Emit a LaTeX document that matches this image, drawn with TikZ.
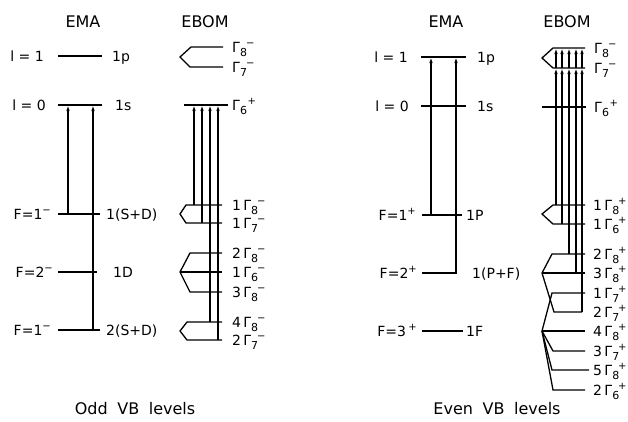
\documentclass[tikz,border=0pt]{standalone}
\usepackage{fontspec}
\setmainfont{DejaVu Sans}
\usetikzlibrary{arrows.meta}
\newcommand{\sgn}[1]{\raisebox{6pt}{\fontsize{10}{10}\selectfont#1}}
\newcommand{\gam}[2]{Γ\raisebox{-4pt}{\fontsize{11}{11}\selectfont#1}\kern-1pt\sgn{#2}}

\begin{document}
\begin{tikzpicture}[x=1pt,y=-1pt,
  font=\fontsize{14}{16}\selectfont,
  lvl/.style={line width=1.3pt},
  arr/.style={-{Latex[length=6pt,width=3.4pt]},line width=1.2pt},
  lab/.style={inner sep=0pt,yshift=-5pt},
  ttl/.style={font=\fontsize{16}{18}\selectfont}]
\useasboundingbox (0,0) rectangle (628,421);

\node[ttl] (emaL)  at (83,22)  {EMA};
\node[ttl] (ebomL) at (205,22) {EBOM};
\node[ttl] (emaR)  at (446,22) {EMA};
\node[ttl] (ebomR) at (567,22) {EBOM};

\draw[lvl] (58,56) -- (102,56);
\draw[lvl] (58,105) -- (102,105);
\draw[lvl] (58,214) -- (100,214);
\draw[lvl] (58,272) -- (97,272);
\draw[lvl] (58,330) -- (100,330);
\draw[arr] (68,214) -- (68,105);
\draw[arr] (93,330) -- (93,105);

\node[lab,anchor=base east] (l1L) at (44,56)  {l = 1};
\node[lab,anchor=base east] (l0L) at (46,105) {l = 0};
\node[lab,anchor=base east] (f1L) at (51,214) {F=1\sgn{−}};
\node[lab,anchor=base east] (f2L) at (53,272) {F=2\sgn{−}};
\node[lab,anchor=base east] (f3L) at (51,330) {F=1\sgn{−}};
\node[lab,anchor=base west] (p1L)  at (112,56)  {1p};
\node[lab,anchor=base west] (s1L)  at (115,105) {1s};
\node[lab,anchor=base west] (sd1L) at (106,214) {1(S+D)};
\node[lab,anchor=base west] (d1L)  at (113,272) {1D};
\node[lab,anchor=base west] (sd2L) at (106,330) {2(S+D)};

\draw[lvl] (223,47) -- (191,47) -- (180,57) -- (190,67) -- (223,67);
\draw[lvl] (184,105) -- (228,105);
\draw[lvl] (222,205) -- (186,205) -- (180,214) -- (186,223) -- (222,223);
\draw[lvl] (222,253) -- (190,253) -- (180,272) -- (190,292) -- (222,292);
\draw[lvl] (180,272) -- (222,272);
\draw[lvl] (222,322) -- (187,322) -- (180,331) -- (187,340) -- (222,340);
\draw[arr] (194,205) -- (194,105);
\draw[arr] (202,223) -- (202,105);
\draw[arr] (210,322) -- (210,105);
\draw[arr] (218,340) -- (218,105);

\node[lab,anchor=base west] (g8L)  at (232,47)  {\gam{8}{−}};
\node[lab,anchor=base west] (g7L)  at (232,67)  {\gam{7}{−}};
\node[lab,anchor=base west] (g6L)  at (232,105) {\gam{6}{\,+}};
\node[lab,anchor=base west] (g81L) at (232,205) {1\,\gam{8}{−}};
\node[lab,anchor=base west] (g71L) at (232,223) {1\,\gam{7}{−}};
\node[lab,anchor=base west] (g82L) at (232,253) {2\,\gam{8}{−}};
\node[lab,anchor=base west] (g61L) at (232,272) {1\,\gam{6}{−}};
\node[lab,anchor=base west] (g83L) at (232,292) {3\,\gam{8}{−}};
\node[lab,anchor=base west] (g84L) at (232,322) {4\,\gam{8}{−}};
\node[lab,anchor=base west] (g72L) at (232,340) {2\,\gam{7}{−}};

\draw[lvl] (421,57) -- (466,57);
\draw[lvl] (421,106) -- (466,106);
\draw[lvl] (422,215) -- (462,215);
\draw[lvl] (422,273) -- (457,273);
\draw[lvl] (422,331) -- (463,331);
\draw[arr] (431,215) -- (431,57);
\draw[arr] (456,273) -- (456,57);

\node[lab,anchor=base east] (l1R) at (408,57)  {l = 1};
\node[lab,anchor=base east] (l0R) at (409,106) {l = 0};
\node[lab,anchor=base east] (f1R) at (416,215) {F=1\sgn{+}};
\node[lab,anchor=base east] (f2R) at (417,273) {F=2\sgn{+}};
\node[lab,anchor=base east] (f3R) at (417,331) {F=3\,\sgn{+}};
\node[lab,anchor=base west] (p1R)  at (477,57)  {1p};
\node[lab,anchor=base west] (s1R)  at (477,106) {1s};
\node[lab,anchor=base west] (pP1R) at (466,215) {1P};
\node[lab,anchor=base west] (pf1R) at (472,273) {1(P+F)};
\node[lab,anchor=base west] (fF1R) at (466,331) {1F};

\draw[lvl] (585,48) -- (553,48) -- (542,58) -- (553,68) -- (585,68);
\draw[lvl] (542,107) -- (586,107);
\draw[lvl] (585,205) -- (553,205) -- (542,214) -- (553,224) -- (585,224);
\draw[lvl] (585,254) -- (552,254) -- (542,273) -- (554,312) -- (582,312);
\draw[lvl] (542,273) -- (585,273);
\draw[lvl] (585,293) -- (552,293) -- (542,331) -- (553,351) -- (585,351);
\draw[lvl] (542,331) -- (585,331);
\draw[lvl] (542,331) -- (552,370) -- (589,370);
\draw[lvl] (542,331) -- (553,390) -- (585,390);
\draw[arr] (556,205) -- (556,68);
\draw[arr] (556,68) -- (556,48);
\draw[arr] (562,224) -- (562,68);
\draw[arr] (562,68) -- (562,48);
\draw[arr] (569,254) -- (569,68);
\draw[arr] (569,68) -- (569,48);
\draw[arr] (576,273) -- (576,68);
\draw[arr] (576,68) -- (576,48);
\draw[arr] (582,312) -- (582,68);
\draw[arr] (582,68) -- (582,48);

\node[lab,anchor=base west] (g8R)  at (594,48)  {\gam{8}{−}};
\node[lab,anchor=base west] (g7R)  at (594,68)  {\gam{7}{−}};
\node[lab,anchor=base west] (g6R)  at (594,107) {\gam{6}{\,+}};
\node[lab,anchor=base west] (g81R) at (593,205) {1\,\gam{8}{+}};
\node[lab,anchor=base west] (g61R) at (593,224) {1\,\gam{6}{+}};
\node[lab,anchor=base west] (g82R) at (593,254) {2\,\gam{8}{+}};
\node[lab,anchor=base west] (g83R) at (593,273) {3\,\gam{8}{+}};
\node[lab,anchor=base west] (g71R) at (593,293) {1\,\gam{7}{+}};
\node[lab,anchor=base west] (g72R) at (593,312) {2\,\gam{7}{+}};
\node[lab,anchor=base west] (g84R) at (593,331) {4\,\gam{8}{+}};
\node[lab,anchor=base west] (g73R) at (593,351) {3\,\gam{7}{+}};
\node[lab,anchor=base west] (g85R) at (593,370) {5\,\gam{8}{+}};
\node[lab,anchor=base west] (g62R) at (593,390) {2\,\gam{6}{+}};

\node[ttl] (oddT)  at (135,409) {Odd\hspace{0.6em}VB\hspace{0.6em}levels};
\node[ttl] (evenT) at (497,409) {Even\hspace{0.6em}VB\hspace{0.6em}levels};
\end{tikzpicture}
\end{document}
